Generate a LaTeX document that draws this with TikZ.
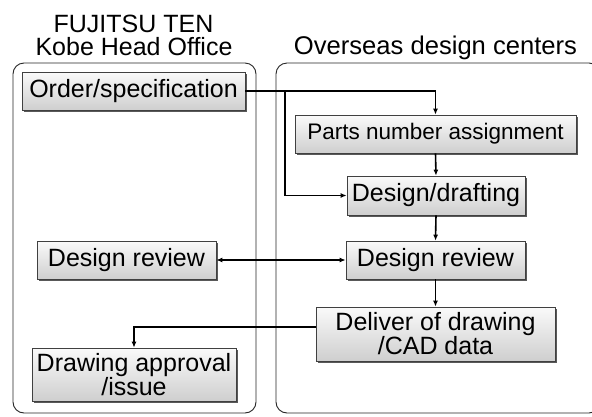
\documentclass[tikz,border=0pt]{standalone}
\usepackage{fontspec}
\setmainfont{Liberation Sans}
\usetikzlibrary{arrows.meta,shadows}
\begin{document}
\begin{tikzpicture}[x=1pt,y=-1pt,
  panel/.style={draw=black!85, line width=0.9pt, rounded corners=11pt},
  fbox/.style={draw=black!75, line width=0.7pt, top color=gray!4, bottom color=gray!38,
    inner sep=0pt, align=center, font=\fontsize{25}{24}\selectfont,
    drop shadow={shadow xshift=2.2pt, shadow yshift=-2.2pt, fill=black!65, opacity=1}},
  title/.style={inner sep=0pt, anchor=base, font=\fontsize{25}{24}\selectfont},
  conn/.style={line width=1.6pt, -{Latex[length=6pt,width=5pt]}},
  link/.style={line width=1.6pt}
]
\clip (0,0) rectangle (592,416);
\fill[white] (0,0) rectangle (592,416);
% panels
\draw[panel] (13,63) rectangle (256,413);
\draw[panel] (276,63) rectangle (600,413);
% titles
\node[title] (t1) at (133.5,32) {FUJITSU TEN};
\node[title] (t2) at (134,55) {Kobe Head Office};
\node[title, font=\fontsize{25.6}{24}\selectfont] (t3) at (435.5,54) {Overseas design centers};
% boxes
\node[fbox, minimum width=223, minimum height=38] (order) at (133.5,91) {Order/specification};
\node[fbox, minimum width=281, minimum height=38, font=\fontsize{22.5}{24}\selectfont] (parts) at (435.5,134) {Parts number assignment};
\node[fbox, minimum width=178, minimum height=39] (draft) at (436,195.5) {Design/drafting};
\node[fbox, minimum width=179, minimum height=38] (revR) at (435.5,260) {Design review};
\node[fbox, minimum width=239, minimum height=54] (deliver) at (435.5,334) {Deliver of drawing\\/CAD data};
\node[fbox, minimum width=179, minimum height=38] (revL) at (126.5,260) {Design review};
\node[fbox, minimum width=204, minimum height=53] (appr) at (134,374.5) {Drawing approval\\/issue};
% connectors
\coordinate (br) at (285,91);
\coordinate (dl) at (316,327);
\draw[conn] (order.east) -- (order.east -| parts.north) -- (parts.north);
\draw[conn] (br) |- (draft.west);
\draw[conn] (parts.south) -- (draft.north);
\draw[conn] (draft.south) -- (revR.north);
\draw[line width=1.6pt, {Latex[length=6pt,width=5pt]}-{Latex[length=6pt,width=5pt]}] (revL.east) -- (revR.west);
\draw[conn] (revR.south) -- (deliver.north);
\draw[conn] (dl) -| (appr.north);
\end{tikzpicture}
\end{document}
